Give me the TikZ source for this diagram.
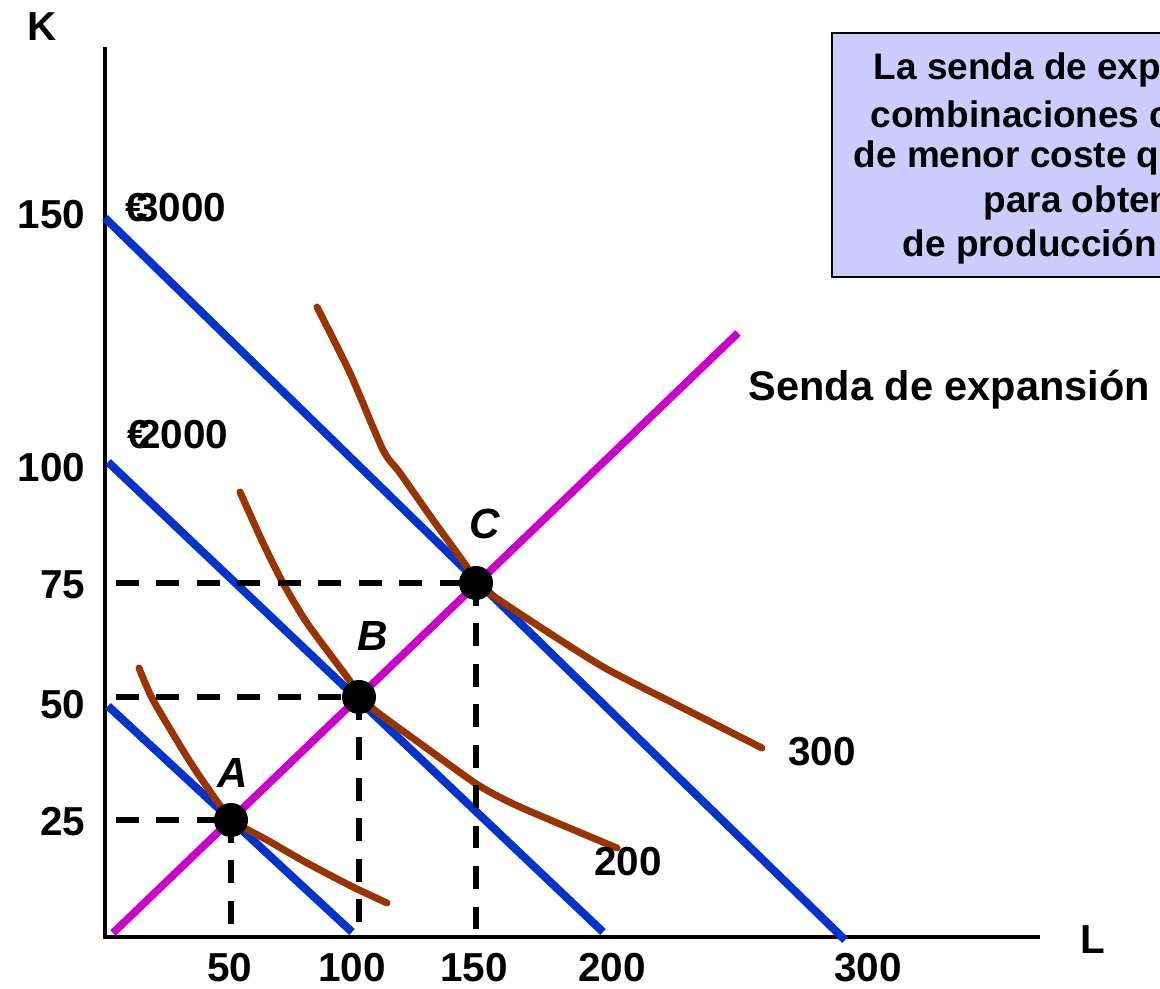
\documentclass[tikz,border=0pt]{standalone}
\usepackage{fontspec}
\setmainfont{Liberation Sans}
\definecolor{budget}{HTML}{0033CC}
\definecolor{senda}{HTML}{CC00CC}
\definecolor{isoq}{HTML}{993300}
\definecolor{notebg}{HTML}{CCCCFF}
\begin{document}
\begin{tikzpicture}[x=0.01cm,y=-0.01cm]
        \tikzstyle{lbl}=[font=\bfseries\fontsize{11.5}{13}\selectfont, inner sep=0pt]
        \tikzstyle{notetxt}=[font=\bfseries\fontsize{10.5}{12.8}\selectfont, inner sep=0pt, anchor=west]
        \tikzstyle{ptlbl}=[font=\bfseries\itshape\fontsize{12}{14}\selectfont, inner sep=0pt]
        \tikzstyle{dot}=[circle, fill=black, inner sep=0pt, minimum size=0.34cm]
        \tikzstyle{budgetline}=[budget, line width=2.3pt]
        \tikzstyle{isoquant}=[isoq, line width=2pt, line cap=round, line join=round]
        \tikzstyle{guide}=[black, line width=1.6pt, dash pattern=on 6.5pt off 5pt]
        \useasboundingbox (0,0) rectangle (1160,989);
        \clip (0,0) rectangle (1160,989);
        % note box
        \draw[fill=notebg, line width=0.7pt] (832,33) rectangle (1175,277);
        \foreach \x/\y/\t in {873/70/La senda de exp, 870/114/combinaciones c,
                853/158/de menor coste q, 983/203/para obten, 902/247/de producción}
            \node[notetxt] at (\x,\y) {\t};
        % axes
        \coordinate (O) at (105,937);
        \coordinate (Ktop) at (105,47);
        \coordinate (Lend) at (1040,937);
        \coordinate (Kbase) at (116,0);
        \coordinate (Lbase) at (0,930);
        \draw[line width=1.2pt] (Ktop) -- (O) -- (Lend);
        \node[lbl] (Klbl) at (42,27) {K};
        \node[lbl] (Llbl) at (1093,940) {L};
        % budget lines
        \draw[budgetline] (105,218) -- (845,940);
        \draw[budgetline] (108,462) -- (603,932);
        \draw[budgetline] (108,706) -- (352,932);
        \node[lbl] (c3) at (176,208) {€\kern-0.3em3000};
        \node[lbl] (c2) at (178,435) {€\kern-0.3em2000};
        % expansion path
        \draw[senda, line width=2.2pt] (113,933) -- (738,333);
        \node[lbl, font=\bfseries\fontsize{11.8}{14}\selectfont, anchor=west] (sendalbl) at (748,390) {Senda de expansión};
        % isoquants
        \draw[isoquant] plot[smooth, tension=0.4] coordinates {(139,668) (153,700) (187,757) (207,787) (232,820) (267,840) (307,863) (353,887) (387,903)};
        \draw[isoquant] plot[smooth, tension=0.4] coordinates {(240,492) (263,543) (283,583) (307,623) (347,677) (360,696) (377,712) (425,747) (478,785) (520,807) (617,848)};
        \draw[isoquant] plot[smooth, tension=0.4] coordinates {(317,307) (350,373) (383,450) (400,473) (433,520) (467,567) (475,583) (540,627) (605,668) (683,708) (762,748)};
        \node[lbl] (q3) at (822,752) {300};
        \node[lbl] (q2) at (628,862) {200};
        % tangency points
        \coordinate (A) at (231,820);
        \coordinate (B) at (359,697);
        \coordinate (C) at (476,583);
        % guides
        \foreach \p in {A,B,C} {
            \draw[guide] (Kbase |- \p) -- (\p);
            \draw[guide] (\p) -- (\p |- Lbase);
        }
        \foreach \p in {A,B,C}
            \node[dot] (dot\p) at (\p) {};
        \node[ptlbl] at (233,773) {A};
        \node[ptlbl] at (373,636) {B};
        \node[ptlbl] at (485,524) {C};
        % tick labels
        \foreach \v/\y in {150/215, 100/468, 75/585, 50/705, 25/822}
            \node[lbl, anchor=east] at (86,\y) {\v};
        \foreach \v/\x in {50/230, 100/352, 150/474, 200/612, 300/868}
            \node[lbl] at (\x,968) {\v};
\end{tikzpicture}
\end{document}
